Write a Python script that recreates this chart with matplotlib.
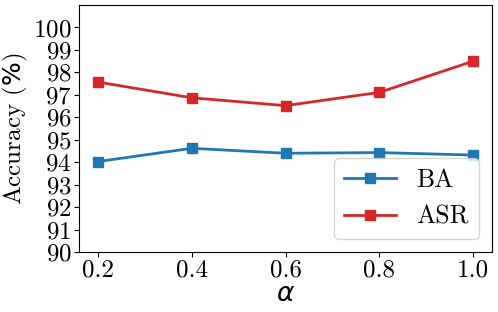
import matplotlib
matplotlib.use("Agg")
import matplotlib.pyplot as plt

# data
alphas = [0.2, 0.4, 0.6, 0.8, 1.0]
ba = [94.03, 94.62, 94.40, 94.43, 94.32]
asr = [97.57, 96.87, 96.52, 97.11, 98.50]

plt.rcParams['font.family'] = ['cmr10', 'DejaVu Sans']
plt.rcParams['mathtext.fontset'] = 'dejavusans'
plt.rcParams['axes.formatter.use_mathtext'] = True

fig, ax = plt.subplots(figsize=(4.98, 3.12), dpi=100)
ax.plot(alphas, ba, marker='s', color='tab:blue', lw=2, ms=7, label='BA')
ax.plot(alphas, asr, marker='s', color='tab:red', lw=2, ms=7, label='ASR')

ax.set_ylim(90, 101)
ax.set_yticks(range(90, 101))
ax.set_xticks(alphas)
ax.set_xticklabels(['0.2', '0.4', '0.6', '0.8', '1.0'])
ax.tick_params(labelsize=18, pad=2)
ax.set_xlabel(r'$\alpha$', fontsize=19, labelpad=0)
ax.set_ylabel(r'Accuracy ($\%$)', fontsize=18)
ax.yaxis.set_label_coords(-0.118, 0.5)
ax.legend(loc='lower right', fontsize=18.5)

fig.subplots_adjust(left=0.159, right=0.988, top=0.984, bottom=0.192)
fig.savefig('out.png', dpi=100)
